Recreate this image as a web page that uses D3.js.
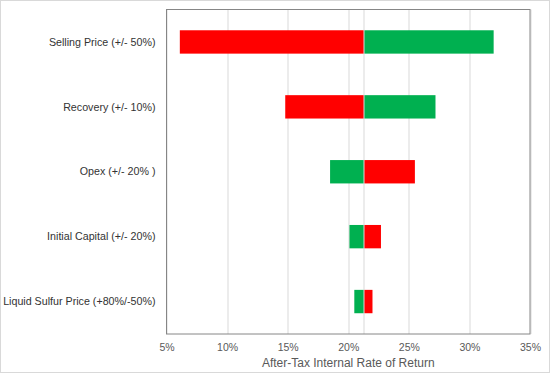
<!DOCTYPE html>
<html>
<head>
<meta charset="utf-8">
<script src="https://cdn.jsdelivr.net/npm/d3@7"></script>
<style>
  body { margin: 0; background: #fff; }
  svg { display: block; font-family: "Liberation Sans", Arial, sans-serif; }
</style>
</head>
<body>
<div id="chart"></div>
<script>
// tornado chart data (after-tax IRR, %)
var categories = ["Selling Price (+/- 50%)", "Recovery (+/- 10%)", "Opex (+/- 20% )", "Initial Capital (+/- 20%)", "Liquid Sulfur Price (+80%/-50%)"];
var baseCase = 21.3;
var decreaseCase = [6.1, 14.8, 25.5, 22.7, 22.0];   // red
var increaseCase = [32.0, 27.2, 18.5, 20.1, 20.5];  // green
var xTicks = [5, 10, 15, 20, 25, 30, 35];

var W = 550, H = 373;
var margin = {top: 9.5, right: 20, bottom: 39, left: 166.5};
var width = 530 - margin.left, height = 334 - margin.top;

var svg = d3.select("#chart").append("svg")
    .attr("width", W)
    .attr("height", H);

svg.append("rect")
    .attr("x", 0.5).attr("y", 0.5)
    .attr("width", W - 1).attr("height", H - 1)
    .attr("fill", "#fff")
    .attr("stroke", "#d9d9d9");

var g = svg.append("g")
    .attr("transform", "translate(" + margin.left + "," + margin.top + ")");

var xScale = d3.scaleLinear()
    .domain([5, 35])
    .range([0, width]);

var yScale = d3.scaleBand()
    .domain(categories)
    .range([0, height])
    .paddingInner(0.64)
    .paddingOuter(0.32);

// gridlines
g.selectAll(".grid")
    .data(xTicks)
    .enter().append("line")
    .attr("x1", d => Math.round(xScale(d)) + 0.5)
    .attr("x2", d => Math.round(xScale(d)) + 0.5)
    .attr("y1", 0).attr("y2", height)
    .attr("stroke", "#d9d9d9");

var rows = categories.map((c, i) => ({cat: c, dec: decreaseCase[i], inc: increaseCase[i]}));

function bar(sel, key, color) {
    sel.append("rect")
        .attr("x", d => xScale(Math.min(d[key], baseCase)))
        .attr("y", d => yScale(d.cat))
        .attr("width", d => Math.abs(xScale(d[key]) - xScale(baseCase)))
        .attr("height", yScale.bandwidth())
        .attr("fill", color);
}

var rowG = g.selectAll(".row").data(rows).enter().append("g");
bar(rowG, "dec", "#ff0000");
bar(rowG, "inc", "#00b050");

// base case line
g.append("line")
    .attr("x1", xScale(baseCase)).attr("x2", xScale(baseCase))
    .attr("y1", 0).attr("y2", height)
    .attr("stroke", "#d9d9d9");

// plot frame
g.append("rect")
    .attr("x", 0).attr("y", 0)
    .attr("width", width).attr("height", height)
    .attr("fill", "none")
    .attr("stroke", "#868686");

// category labels
g.selectAll(".cat")
    .data(categories)
    .enter().append("text")
    .attr("x", -11)
    .attr("y", d => yScale(d) + yScale.bandwidth() / 2)
    .attr("dy", "0.35em")
    .attr("text-anchor", "end")
    .attr("font-size", "10.7px")
    .attr("fill", "#333")
    .text(d => d);

// x axis
var xAxis = g.append("g")
    .attr("transform", "translate(0," + height + ")")
    .call(d3.axisBottom(xScale).tickValues(xTicks).tickSize(0).tickPadding(10).tickFormat(d => d + "%"));
xAxis.select(".domain").remove();
xAxis.selectAll("text")
    .attr("font-size", "10.5px")
    .attr("font-family", "Liberation Sans, Arial, sans-serif")
    .attr("fill", "#595959");

svg.append("text")
    .attr("x", margin.left + width / 2)
    .attr("y", 367)
    .attr("text-anchor", "middle")
    .attr("font-size", "12px")
    .attr("fill", "#595959")
    .text("After-Tax Internal Rate of Return");
</script>
</body>
</html>
